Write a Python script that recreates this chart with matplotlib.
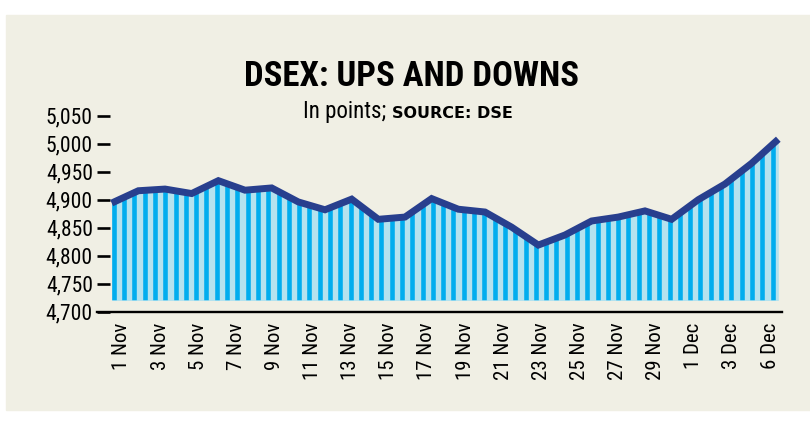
import numpy as np
import matplotlib
matplotlib.use("Agg")
import matplotlib.pyplot as plt
from matplotlib import font_manager as fm
from matplotlib.patches import Rectangle

# ---------------------------
# Data
# ---------------------------
values = [4894, 4916, 4919, 4911, 4934, 4917, 4921, 4896, 4882, 4901,
          4865, 4869, 4902, 4883, 4878, 4851, 4819, 4837, 4862, 4869,
          4880, 4865, 4900, 4928, 4965, 5008]
tick_labels = ["1 Nov", "3 Nov", "5 Nov", "7 Nov", "9 Nov", "11 Nov", "13 Nov",
               "15 Nov", "17 Nov", "19 Nov", "21 Nov", "23 Nov", "25 Nov",
               "27 Nov", "29 Nov", "1 Dec", "3 Dec", "6 Dec"]
y_ticks = [4700, 4750, 4800, 4850, 4900, 4950, 5000, 5050]
fill_base = 4720


def pick_font(names):
    """Return the first installed family from the list."""
    for name in names:
        try:
            fm.findfont(fm.FontProperties(family=name), fallback_to_default=False)
            return name
        except ValueError:
            continue
    return "DejaVu Sans"


narrow = pick_font(["Roboto Condensed", "Liberation Sans Narrow", "DejaVu Sans"])

BG = "#F0EFE4"
NAVY = "#283F8E"
CYAN = "#00ADEE"
PALE = "#B4E2EE"

fig = plt.figure(figsize=(8.1, 4.22), dpi=100)
fig.add_artist(Rectangle((6 / 810, 1 - 410 / 422), 804 / 810, 395 / 422,
                         transform=fig.transFigure, color=BG, zorder=0))

ax = fig.add_axes([97 / 810, 1 - 311.7 / 422, 685 / 810, 196 / 422])
ax.patch.set_visible(False)

x = np.arange(len(values))

# striped area under the line
poly = ax.fill_between(x, fill_base, values, color=PALE, linewidth=0, zorder=1)
stripe_step = 0.386
stripes = ax.vlines(np.arange(0.08, x[-1] + 0.3, stripe_step), fill_base, max(values) + 10,
                    color=CYAN, linewidth=3.3, zorder=2)
stripes.set_clip_path(poly.get_paths()[0], ax.transData)

ax.plot(x, values, color=NAVY, linewidth=5, solid_joinstyle="miter",
        solid_capstyle="butt", zorder=3, clip_on=False)

ax.set_xlim(-0.551, x[-1] + 0.139)
ax.set_ylim(y_ticks[0], y_ticks[-1])

for side in ["top", "right", "left"]:
    ax.spines[side].set_visible(False)
ax.spines["bottom"].set_linewidth(1.7)
ax.spines["bottom"].set_color("black")

ax.set_yticks(y_ticks, [f"{v:,}" for v in y_ticks])
ax.tick_params(axis="y", direction="in", length=9.4, width=1.9, pad=3,
               labelsize=15.5, color="black")

label_pos = np.linspace(0.386, 24.69, len(tick_labels))
ax.set_xticks(label_pos, tick_labels, rotation=90)
ax.tick_params(axis="x", length=0, pad=8, labelsize=15)

for lab in ax.get_xticklabels() + ax.get_yticklabels():
    lab.set_family(narrow)

fig.text(412 / 810, 1 - 86 / 422, "DSEX: UPS AND DOWNS", ha="center", va="baseline",
         fontsize=25, fontweight="bold", family=narrow)
fig.text(386 / 810, 1 - 118 / 422, "In points;", ha="right", va="baseline",
         fontsize=16.5, family=narrow)
fig.text(392 / 810, 1 - 118 / 422, "SOURCE: DSE", ha="left", va="baseline",
         fontsize=11.5, fontweight="bold", family="DejaVu Sans")

fig.savefig("out.png", dpi=100)
